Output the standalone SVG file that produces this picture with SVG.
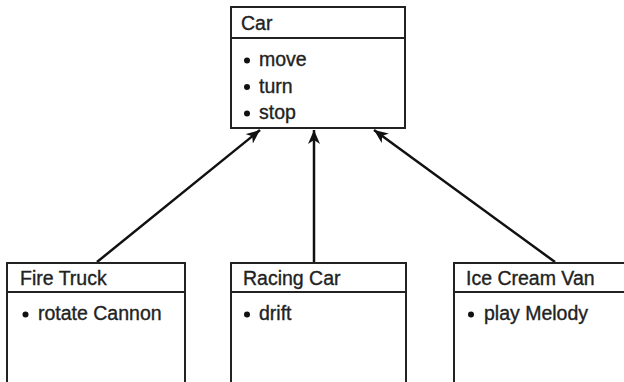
<svg xmlns="http://www.w3.org/2000/svg" width="624" height="382" viewBox="0 0 624 382">
<defs>
<style>
.box{fill:#fff;stroke:#222;stroke-width:2}
.div{stroke:#222;stroke-width:2}
.t{font-family:"Liberation Sans",Arial,sans-serif;font-size:19.5px;fill:#222;stroke:#222;stroke-width:0.35}
.b{fill:#111}
.conn{stroke:#111;stroke-width:2.5;fill:none;marker-end:url(#arr)}
</style>
<marker id="arr" markerUnits="userSpaceOnUse" markerWidth="16" markerHeight="14" refX="14" refY="6" orient="auto">
<path d="M0,0 L14,6 L0,12 L4,6 z" fill="#111"/>
</marker>
</defs>
<rect width="624" height="382" fill="#fff"/>
<g id="connectors">
<line class="conn" x1="97" y1="262" x2="260" y2="130"/>
<line class="conn" x1="314" y1="262" x2="314" y2="130"/>
<line class="conn" x1="555" y1="262" x2="374" y2="130"/>
</g>
<g id="car">
<rect class="box" x="231" y="7" width="174" height="121"/>
<line class="div" x1="231" y1="38" x2="405" y2="38"/>
<text class="t" x="241" y="30">Car</text>
<circle class="b" cx="247" cy="60.5" r="3"/>
<text class="t" x="259" y="66">move</text>
<circle class="b" cx="247" cy="87" r="3"/>
<text class="t" x="259" y="92.5">turn</text>
<circle class="b" cx="247" cy="113.5" r="3"/>
<text class="t" x="259" y="119">stop</text>
</g>
<g id="fire-truck">
<rect class="box" x="7" y="263" width="178" height="140"/>
<line class="div" x1="7" y1="292" x2="185" y2="292"/>
<text class="t" x="20" y="285">Fire Truck</text>
<circle class="b" cx="25.5" cy="314.5" r="3"/>
<text class="t" x="38" y="320">rotate Cannon</text>
</g>
<g id="racing-car">
<rect class="box" x="231" y="263" width="175" height="140"/>
<line class="div" x1="231" y1="292" x2="406" y2="292"/>
<text class="t" x="243" y="285">Racing Car</text>
<circle class="b" cx="247" cy="314.5" r="3"/>
<text class="t" x="259" y="320">drift</text>
</g>
<g id="ice-cream-van">
<rect class="box" x="454" y="263" width="190" height="140"/>
<line class="div" x1="454" y1="292" x2="630" y2="292"/>
<text class="t" x="466" y="285">Ice Cream Van</text>
<circle class="b" cx="471" cy="314.5" r="3"/>
<text class="t" x="484" y="320">play Melody</text>
</g>
</svg>
